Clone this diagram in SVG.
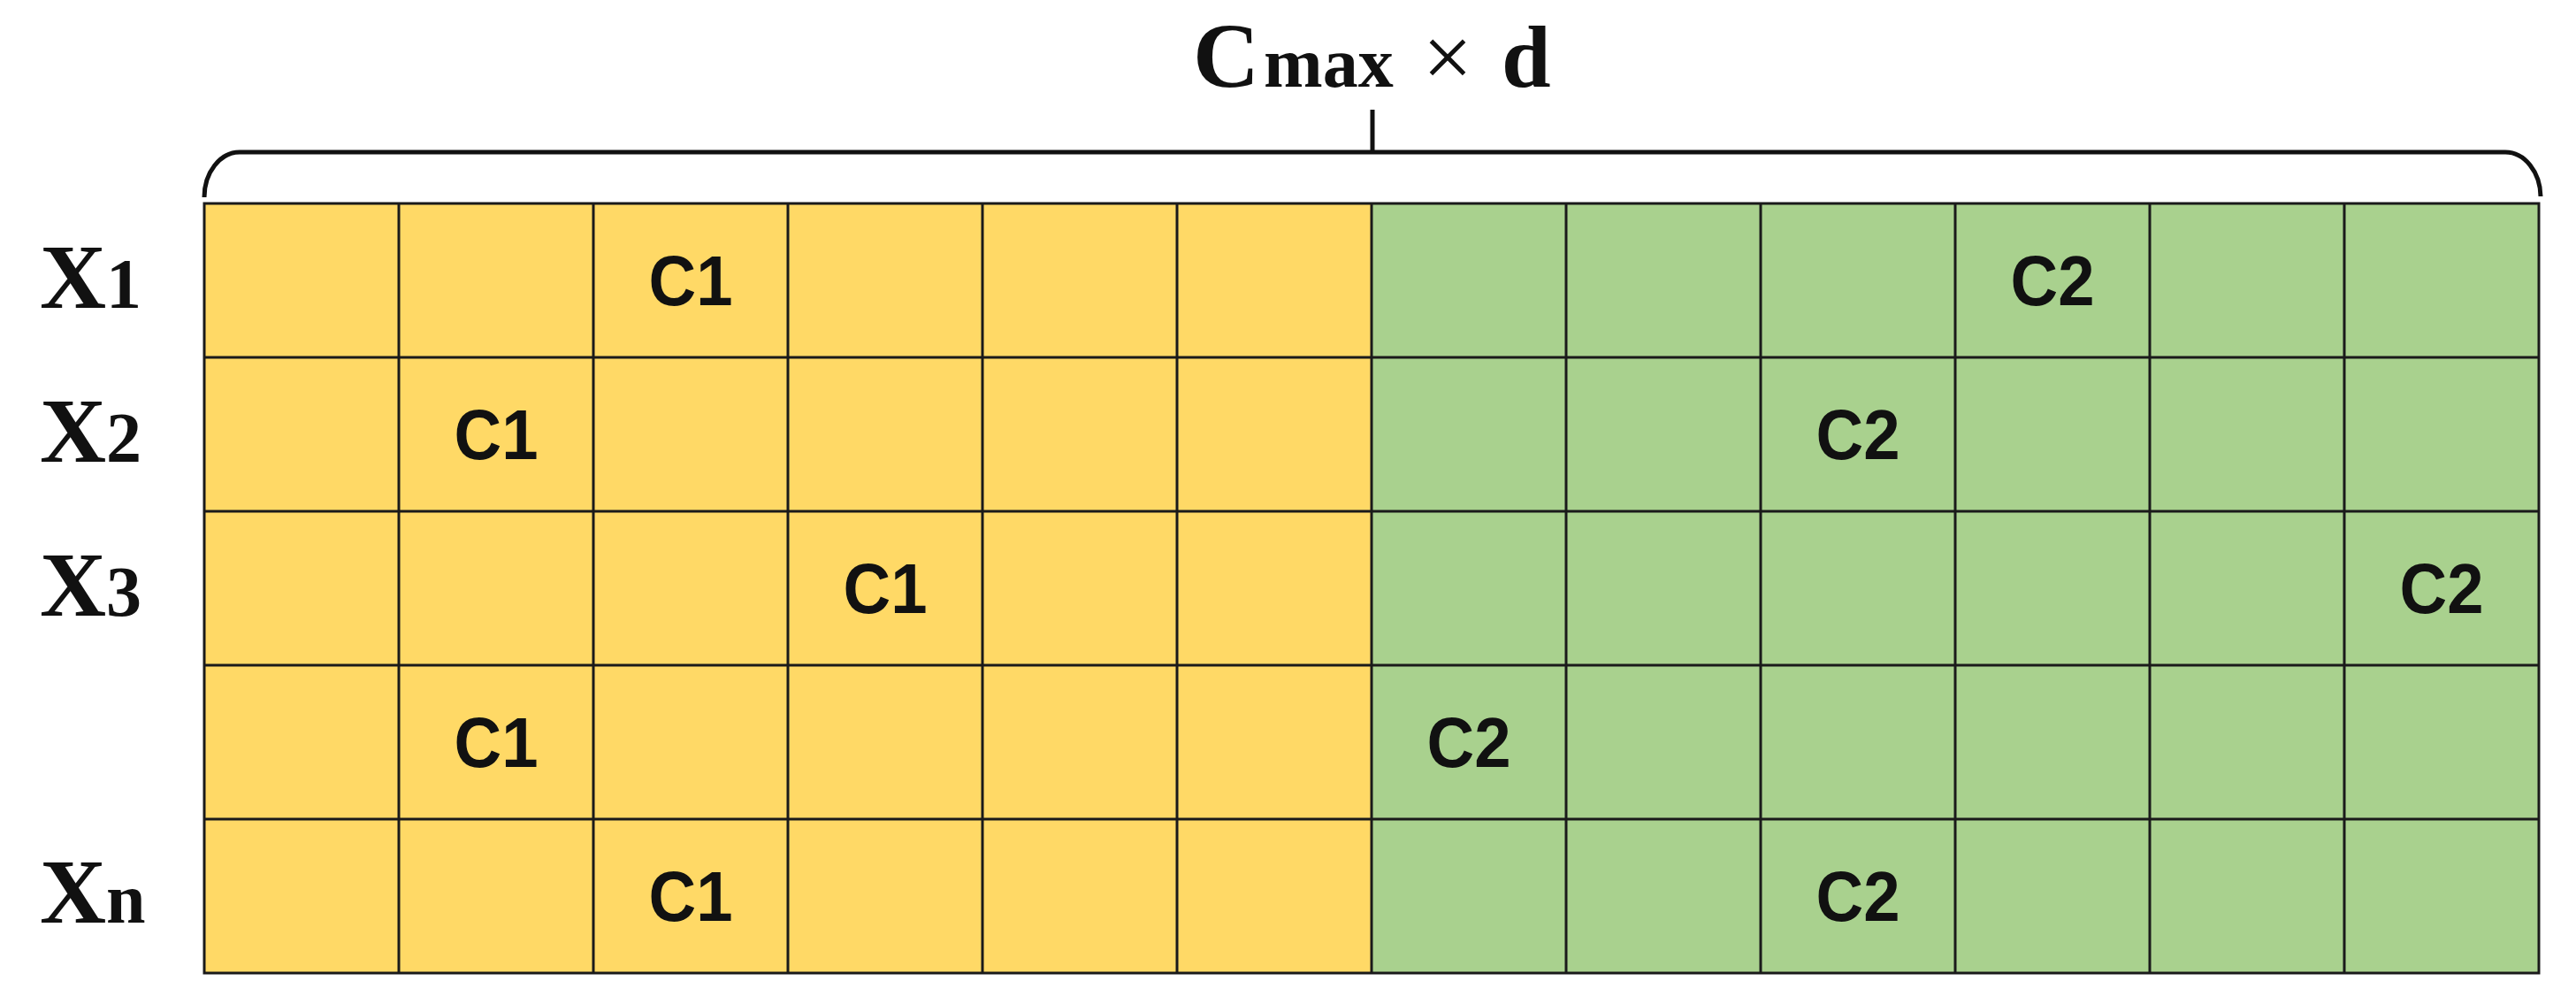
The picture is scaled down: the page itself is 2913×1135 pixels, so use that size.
<svg xmlns="http://www.w3.org/2000/svg" width="2913" height="1135" viewBox="0 0 2913 1135">
<style>
.yel{fill:#FFD966}
.grn{fill:#A9D18E}
.grid{stroke:#1a1a1a;stroke-width:3;fill:none}
.cell{font-family:"Liberation Sans",Arial,sans-serif;font-weight:bold;font-size:80px;fill:#111;text-anchor:middle}
.lbl{font-family:"Liberation Serif","Times New Roman",serif;font-weight:bold;fill:#111}
.brace{stroke:#111;stroke-width:5;fill:none}
</style>
<rect width="2913" height="1135" fill="#fff"/>
<g id="bracket">
<path class="brace" d="M231,223 A40,51 0 0 1 271,172 L2833,172 A40,51 0 0 1 2873,222"/>
<line class="brace" x1="1552" y1="124" x2="1552" y2="172"/>
<text class="lbl" y="98"><tspan x="1349" font-size="104">C</tspan><tspan x="1429" font-size="80">max</tspan><tspan x="1637" font-size="100" font-weight="normal" text-anchor="middle">×</tspan><tspan x="1698" font-size="100">d</tspan></text>
</g>
<g id="block-c1">
<rect class="yel" x="231" y="230" width="1320" height="870"/>
</g>
<g id="block-c2">
<rect class="grn" x="1551" y="230" width="1320" height="870"/>
</g>
<g id="grid-lines" class="grid">
<rect x="231" y="230" width="2640" height="870"/>
<path d="M231,404H2871M231,578H2871M231,752H2871M231,926H2871"/>
<path d="M451,230V1100M671,230V1100M891,230V1100M1111,230V1100M1331,230V1100M1551,230V1100M1771,230V1100M1991,230V1100M2211,230V1100M2431,230V1100M2651,230V1100"/>
</g>
<g id="row-labels" class="lbl">
<text id="label-x1" y="348"><tspan x="45" font-size="104">X</tspan><tspan font-size="80">1</tspan></text>
<text id="label-x2" y="522"><tspan x="45" font-size="104">X</tspan><tspan font-size="80">2</tspan></text>
<text id="label-x3" y="696"><tspan x="45" font-size="104">X</tspan><tspan font-size="80">3</tspan></text>
<text id="label-xn" y="1043"><tspan x="45" font-size="104">X</tspan><tspan font-size="80">n</tspan></text>
</g>
<g id="cell-labels" class="cell">
<text x="781" y="345" textLength="95" lengthAdjust="spacingAndGlyphs">C1</text>
<text x="2321" y="345" textLength="95" lengthAdjust="spacingAndGlyphs">C2</text>
<text x="561" y="519" textLength="95" lengthAdjust="spacingAndGlyphs">C1</text>
<text x="2101" y="519" textLength="95" lengthAdjust="spacingAndGlyphs">C2</text>
<text x="1001" y="693" textLength="95" lengthAdjust="spacingAndGlyphs">C1</text>
<text x="2761" y="693" textLength="95" lengthAdjust="spacingAndGlyphs">C2</text>
<text x="561" y="867" textLength="95" lengthAdjust="spacingAndGlyphs">C1</text>
<text x="1661" y="867" textLength="95" lengthAdjust="spacingAndGlyphs">C2</text>
<text x="781" y="1041" textLength="95" lengthAdjust="spacingAndGlyphs">C1</text>
<text x="2101" y="1041" textLength="95" lengthAdjust="spacingAndGlyphs">C2</text>
</g>
</svg>
